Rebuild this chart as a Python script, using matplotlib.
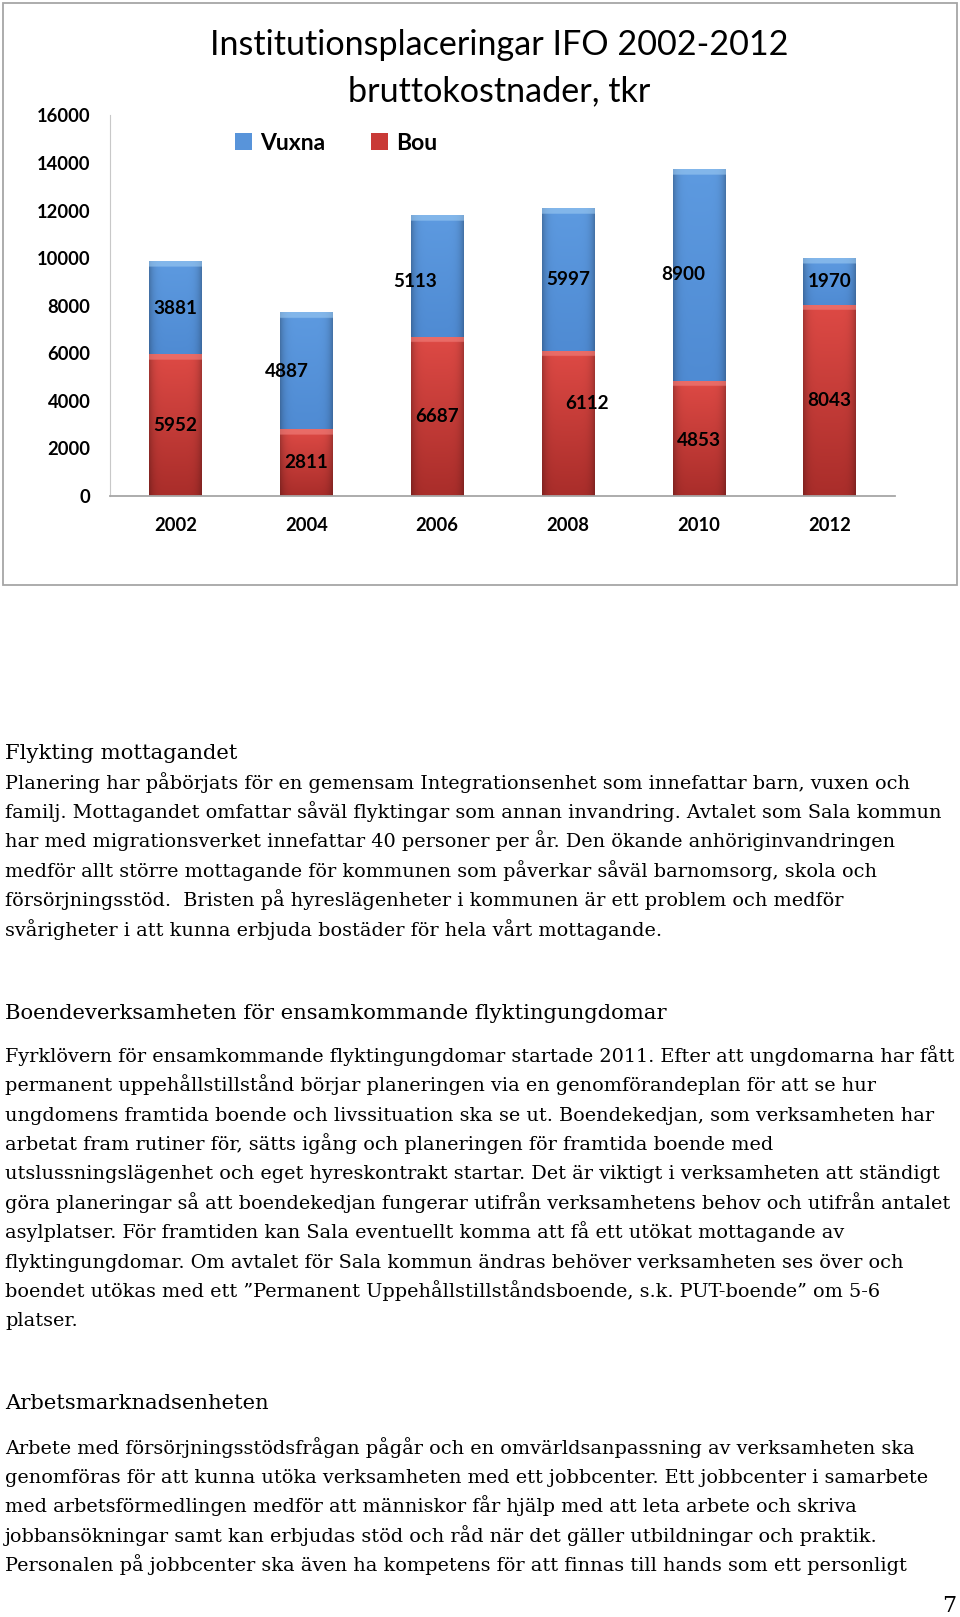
import numpy as np
import matplotlib.pyplot as plt
from matplotlib.colors import to_rgb
from matplotlib.patches import Rectangle

# chart data
years = ['2002', '2004', '2006', '2008', '2010', '2012']
bou = [5952, 2811, 6687, 6112, 4853, 8043]
vuxna = [3881, 4887, 5113, 5997, 8900, 1970]

# page text
head1 = 'Flykting mottagandet'
body1 = [
    'Planering har påbörjats för en gemensam Integrationsenhet som innefattar barn, vuxen och',
    'familj. Mottagandet omfattar såväl flyktingar som annan invandring. Avtalet som Sala kommun',
    'har med migrationsverket innefattar 40 personer per år. Den ökande anhöriginvandringen',
    'medför allt större mottagande för kommunen som påverkar såväl barnomsorg, skola och',
    'försörjningsstöd.  Bristen på hyreslägenheter i kommunen är ett problem och medför',
    'svårigheter i att kunna erbjuda bostäder för hela vårt mottagande.',
]
head2 = 'Boendeverksamheten för ensamkommande flyktingungdomar'
body2 = [
    'Fyrklövern för ensamkommande flyktingungdomar startade 2011. Efter att ungdomarna har fått',
    'permanent uppehållstillstånd börjar planeringen via en genomförandeplan för att se hur',
    'ungdomens framtida boende och livssituation ska se ut. Boendekedjan, som verksamheten har',
    'arbetat fram rutiner för, sätts igång och planeringen för framtida boende med',
    'utslussningslägenhet och eget hyreskontrakt startar. Det är viktigt i verksamheten att ständigt',
    'göra planeringar så att boendekedjan fungerar utifrån verksamhetens behov och utifrån antalet',
    'asylplatser. För framtiden kan Sala eventuellt komma att få ett utökat mottagande av',
    'flyktingungdomar. Om avtalet för Sala kommun ändras behöver verksamheten ses över och',
    'boendet utökas med ett \u201dPermanent Uppehållstillståndsboende, s.k. PUT-boende\u201d om 5-6',
    'platser.',
]
head3 = 'Arbetsmarknadsenheten'
body3 = [
    'Arbete med försörjningsstödsfrågan pågår och en omvärldsanpassning av verksamheten ska',
    'genomföras för att kunna utöka verksamheten med ett jobbcenter. Ett jobbcenter i samarbete',
    'med arbetsförmedlingen medför att människor får hjälp med att leta arbete och skriva',
    'jobbansökningar samt kan erbjudas stöd och råd när det gäller utbildningar och praktik.',
    'Personalen på jobbcenter ska även ha kompetens för att finnas till hands som ett personligt',
]

W, H = 960, 1617
fig = plt.figure(figsize=(9.6, 16.17), dpi=100)


def fx(px):
    return px / W


def fy(py):
    return 1 - py / H


# chart frame
fig.add_artist(Rectangle((fx(3), fy(585)), fx(957) - fx(3), fy(3) - fy(585),
                         transform=fig.transFigure, fill=False,
                         ec='#a6a6a6', lw=1.3))

ax = fig.add_axes([fx(110), fy(496), fx(895) - fx(110), fy(115.5) - fy(496)])
x = np.arange(len(years))
bars_bou = ax.bar(x, bou, 0.4, color='#c93a36', zorder=2)
bars_vux = ax.bar(x, vuxna, 0.4, bottom=bou, color='#5894da', zorder=2)


def shade(bars, c_bot, c_top, c_hi):
    # fake the excel bevel: vertical gradient, darker sides, light top band
    c0, c1, hi = np.array(to_rgb(c_bot)), np.array(to_rgb(c_top)), np.array(to_rgb(c_hi))
    for p in bars:
        x0, y0 = p.get_xy()
        w, h = p.get_width(), p.get_height()
        t = np.linspace(0, 1, 300)[:, None, None]
        u = np.linspace(0, 1, 60)[None, :, None]
        img = c0 + (c1 - c0) * t
        img = img * (1 - 0.25 * np.abs(2 * u - 1) ** 6)
        bev = 230 / h
        band = (t > 1 - bev)
        img = np.where(band, img * 0.4 + hi * 0.6, img)
        img = np.clip(img, 0, 1)
        ax.imshow(img, extent=(x0, x0 + w, y0, y0 + h), origin='lower',
                  aspect='auto', zorder=2.5, interpolation='bilinear')


shade(bars_bou, '#a92d2a', '#de4a45', '#f2827e')
shade(bars_vux, '#4f8bd3', '#5d9ae0', '#9ccaf2')

ax.set_xlim(-0.5, 5.5)
ax.set_ylim(0, 16000)
ax.set_yticks(range(0, 16001, 2000))
ax.set_xticks(x)
ax.set_xticklabels(years)
for s in ['top', 'right']:
    ax.spines[s].set_visible(False)
ax.spines['left'].set_color('#c8c8c8')
ax.spines['bottom'].set_color('#a6a6a6')
ax.spines['bottom'].set_linewidth(1.3)
ax.tick_params(length=0)
ax.tick_params(axis='y', pad=14)
ax.tick_params(axis='x', pad=15)
for lab in ax.get_xticklabels() + ax.get_yticklabels():
    lab.set_family('Lato')
    lab.set_fontweight('bold')
    lab.set_fontsize(13.2)

# label nudges (points), as in the original sheet
bou_off = [(0, 0), (0, 0), (0, 0), (14, 14), (0, -1.5), (0, 0)]
vux_off = [(0, 0), (-14, 0), (-16, -4), (0, 0), (-11.5, 0), (0, 0)]
for i in range(len(years)):
    ax.annotate(str(bou[i]), (x[i], bou[i] / 2), xytext=bou_off[i],
                textcoords='offset points', ha='center', va='center',
                fontsize=13.6, fontweight='bold', family='Lato', zorder=5)
    ax.annotate(str(vuxna[i]), (x[i], bou[i] + vuxna[i] / 2), xytext=vux_off[i],
                textcoords='offset points', ha='center', va='center',
                fontsize=13.6, fontweight='bold', family='Lato', zorder=5)

fig.legend([bars_vux[0], bars_bou[0]], ['Vuxna', 'Bou'], loc='center',
           bbox_to_anchor=(fx(336), fy(143)), ncol=2, frameon=False,
           prop=dict(family='Lato', weight='bold', size=16.5),
           handlelength=0.75, handleheight=0.75, handletextpad=0.35,
           columnspacing=2.0)

fig.text(fx(499), fy(45), 'Institutionsplaceringar IFO 2002-2012',
         ha='center', va='center', fontsize=24.6, family='Lato')
fig.text(fx(499), fy(91), 'bruttokostnader, tkr',
         ha='center', va='center', fontsize=24.6, family='Lato')

# page text
serif = 'DejaVu Serif'
step = 29.4


def para(head, y_head, lines, y_first):
    fig.text(fx(5), fy(y_head + 7), head, ha='left', va='baseline',
             fontsize=15.2, family=serif)
    for k, line in enumerate(lines):
        fig.text(fx(5), fy(y_first + k * step + 7), line, ha='left',
                 va='baseline', fontsize=13.85, family=serif)


para(head1, 752, body1, 781.6)
para(head2, 1011.5, body2, 1054.8)
para(head3, 1402.3, body3, 1446.6)

fig.text(fx(956), fy(1612), '7', ha='right', va='baseline', fontsize=16,
         family=serif)

fig.savefig('out.png', dpi=100)
